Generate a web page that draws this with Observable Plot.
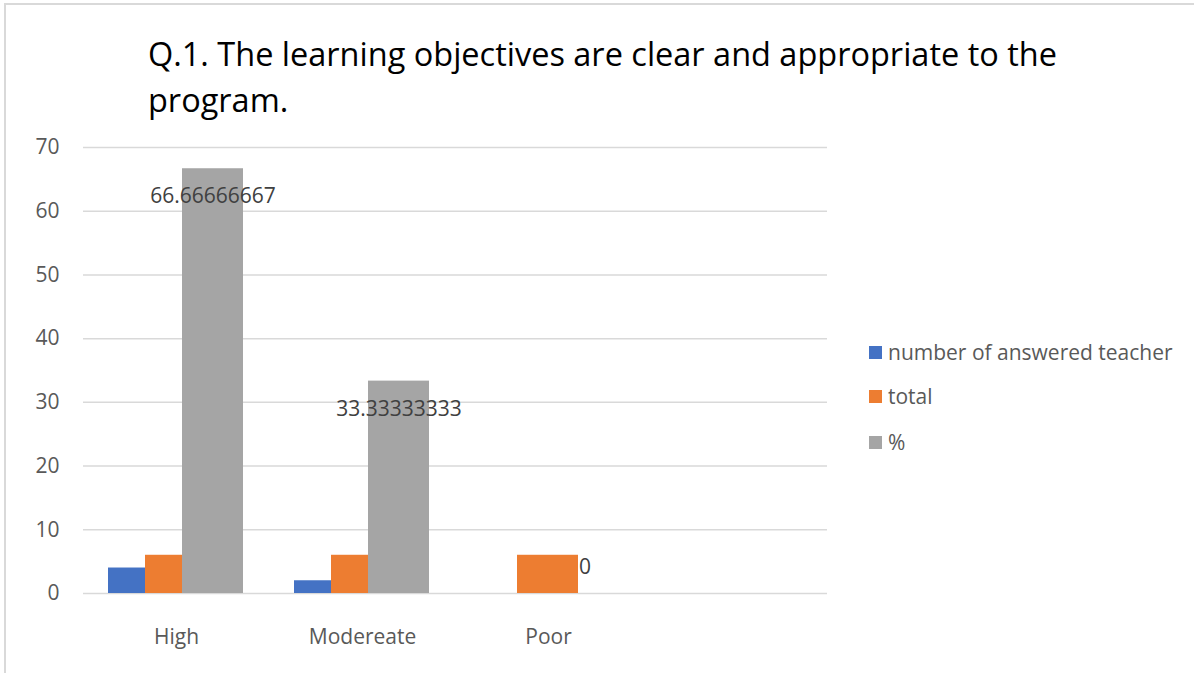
<!DOCTYPE html>
<html>
<head>
<meta charset="utf-8">
<script src="https://cdn.jsdelivr.net/npm/d3@7"></script>
<script src="https://cdn.jsdelivr.net/npm/@observablehq/plot@0.6"></script>
<style>
  body { margin: 0; background: #fff; }
  #wrap { position: relative; width: 1194px; height: 673px; overflow: hidden; font-family: "Open Sans", sans-serif; background: #fff; }
  #frame { position: absolute; left: 4px; top: 3px; width: 1300px; height: 800px; border-left: 2px solid #d9d9d9; border-top: 2px solid #d9d9d9; }
  #title { position: absolute; left: 148px; top: 31px; font-size: 30px; line-height: 46px; color: #000; white-space: nowrap; }
  #chart { position: absolute; left: 0; top: 130px; }
  #legend { position: absolute; left: 869px; top: 0; font-size: 21px; color: #595959; }
  .li { position: absolute; left: 0; white-space: nowrap; display: flex; align-items: center; height: 30px; }
  .sw { width: 13px; height: 13px; margin-right: 6px; flex: none; }
</style>
</head>
<body>
<div id="wrap">
  <div id="frame"></div>
  <div id="title"><span id="t1">Q.1. The learning objectives are clear and appropriate to the</span><br>program.</div>
  <div id="chart"></div>
  <div id="legend"></div>
</div>
<script>
// ---- data ----
const categories = ["High", "Modereate", "Poor", ""];
const series = ["number of answered teacher", "total", "%"];
const answered = [4, 2, 0];
const total = [6, 6, 6];
const percent = [66.66666667, 33.33333333, 0];
const yTicks = [0, 10, 20, 30, 40, 50, 60, 70];
const colors = ["#4472C4", "#ED7D31", "#A5A5A5"];

const rows = [];
[answered, total, percent].forEach((vals, s) => {
  vals.forEach((v, i) => rows.push({ category: categories[i], series: series[s], value: v }));
});
rows.sort((a, b) => categories.indexOf(a.category) - categories.indexOf(b.category) || series.indexOf(a.series) - series.indexOf(b.series));

const pct = rows.filter(d => d.series === "%");
// gridlines repeated in every category panel (including the empty trailing one)
const grid = categories.flatMap(c => yTicks.map(t => ({ category: c, tick: t })));

let chart;
try {
  chart = Plot.plot({
    width: 1194,
    height: 543,
    marginLeft: 82,
    marginRight: 367,
    marginTop: 17,
    marginBottom: 80,
    style: { fontFamily: "Open Sans, sans-serif", fontSize: "21px", color: "#595959", background: "transparent", overflow: "visible" },
    fx: { domain: categories, padding: 0, label: null, axis: "bottom", tickSize: 0, tickPadding: 36 },
    x: { domain: series, paddingInner: 0, paddingOuter: 0.957, align: 0.33, axis: null },
    y: { domain: [0, 70], ticks: yTicks, tickSize: 0, tickPadding: 24, label: null, tickFormat: d => String(d) },
    color: { domain: series, range: colors },
    marks: [
      Plot.ruleY(grid, { fx: "category", y: "tick", stroke: "#d9d9d9", strokeWidth: 1.5 }),
      Plot.barY(rows, { fx: "category", x: "series", y: "value", fill: "series", inset: 0, insetRight: -24 }),
      Plot.text(pct.filter(d => d.value > 0), { fx: "category", x: "series", y: "value", text: d => String(d.value), dx: 12, dy: 28, fill: "#404040", fontSize: 21 }),
      Plot.text(pct.filter(d => d.value === 0), { fx: "category", x: "series", y: "value", text: d => String(d.value), dx: 12, dy: -26, fill: "#404040", fontSize: 21 })
    ]
  });
  document.getElementById("chart").appendChild(chart);
} catch (e) { console.error(e); }

// legend
const legend = document.getElementById("legend");
const legendY = [352, 396, 442];
series.forEach((s, i) => {
  const el = document.createElement("div");
  el.className = "li";
  el.style.top = (legendY[i] - 15) + "px";
  el.innerHTML = `<div class="sw" style="background:${colors[i]}"></div><span>${s}</span>`;
  legend.appendChild(el);
});

// fit title width to reference (line 1 spans ~909px)
const t1 = document.getElementById("t1");
const title = document.getElementById("title");
const w = t1.getBoundingClientRect().width;
title.style.fontSize = (30 * 909 / w).toFixed(2) + "px";
</script>
</body>
</html>
